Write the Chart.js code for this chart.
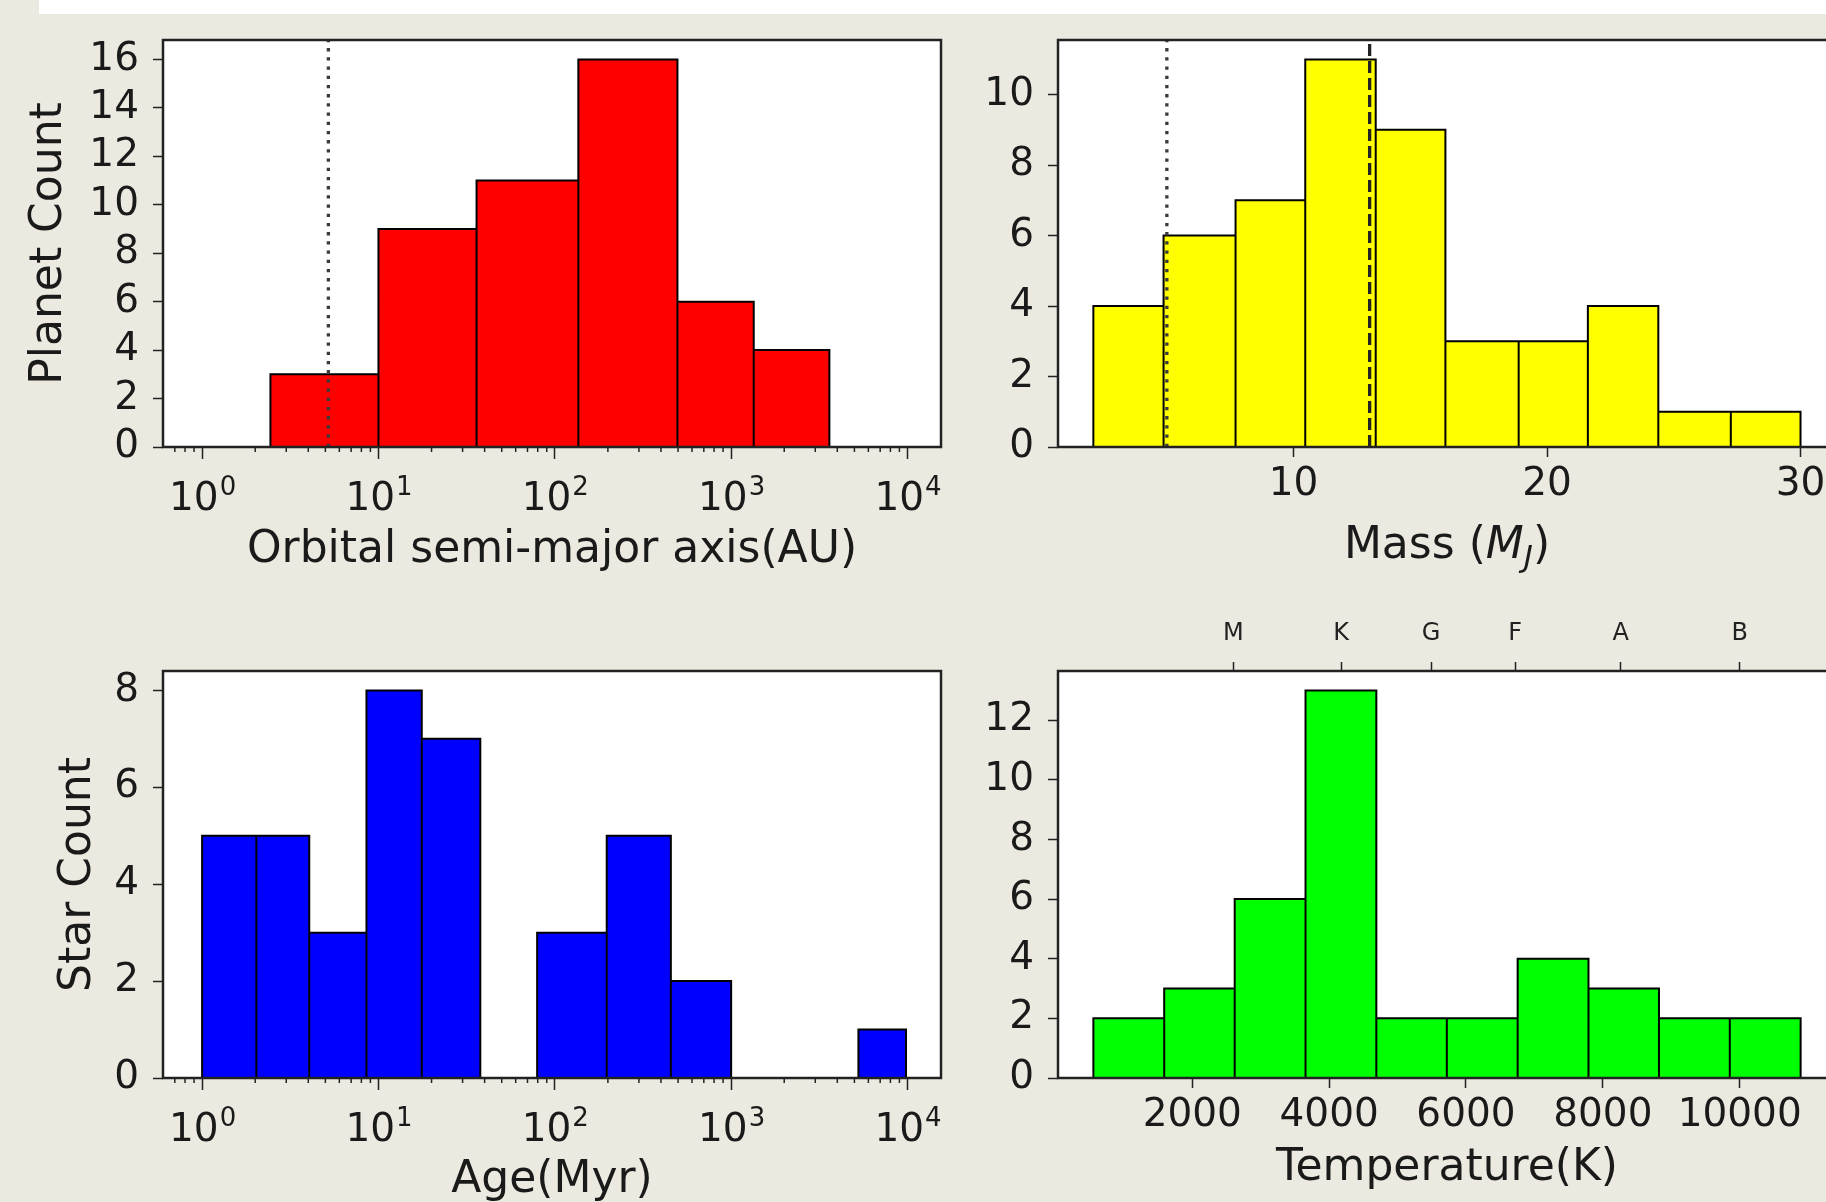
<!DOCTYPE html>
<html>
<head>
<meta charset="utf-8">
<script src="https://cdn.jsdelivr.net/npm/chart.js@4.4.1/dist/chart.umd.min.js"></script>
<style>
  html, body { margin: 0; padding: 0; }
  body { width: 1826px; height: 1202px; overflow: hidden; background: #eceae0; position: relative; }
  #band { position: absolute; left: 39px; top: 0; width: 1787px; height: 14px; background: #fff; }
  canvas { position: absolute; }
</style>
</head>
<body>
<div id="band"></div>
<canvas id="axisChart" width="1000" height="600" style="left:0px;top:0px"></canvas>
<canvas id="massChart" width="1000" height="600" style="left:950px;top:0px"></canvas>
<canvas id="ageChart" width="1000" height="660" style="left:0px;top:600px"></canvas>
<canvas id="tempChart" width="1000" height="660" style="left:950px;top:600px"></canvas>
<script>
// --- data ---
// orbital semi-major axis (AU), log bins
const axisEdges = [2.44, 10, 36, 136, 496, 1343, 3606];
const axisCounts = [3, 9, 11, 16, 6, 4];
const axisDotted = 5.2;

// mass (M_J)
const massEdges = [2.1, 4.87, 7.71, 10.46, 13.24, 15.99, 18.88, 21.61, 24.39, 27.25, 30.0];
const massCounts = [4, 6, 7, 11, 9, 3, 3, 4, 1, 1];
const massDotted = 5;
const massDashed = 13;

// age (Myr), log bins
const ageEdges = [1, 2.03, 4.05, 8.55, 17.6, 37.8, 79.4, 197, 455, 1000, 5270, 9810];
const ageCounts = [5, 5, 3, 8, 7, 0, 3, 5, 2, 0, 1];

// temperature (K)
const tempEdges = [555, 1590, 2620, 3655, 4690, 5720, 6755, 7790, 8820, 9855, 10890];
const tempCounts = [2, 3, 6, 13, 2, 2, 4, 3, 2, 2];
const spectralTypes = ['M', 'K', 'G', 'F', 'A', 'B'];
const spectralTemps = [2600, 4175, 5490, 6720, 8260, 10000];

// axis limits and ticks
const axisRange = [0.631, 15490];
const ageRange = [0.631, 15490];
const massRange = [0.705, 31.4];
const tempRange = [38, 11407];
const planetMax = 16.8, massCountMax = 11.55, starMax = 8.4, tempCountMax = 13.65;
const planetTicks = [0, 2, 4, 6, 8, 10, 12, 14, 16];
const massCountTicks = [0, 2, 4, 6, 8, 10];
const starTicks = [0, 2, 4, 6, 8];
const tempCountTicks = [0, 2, 4, 6, 8, 10, 12];
const massTicks = [10, 20, 30];
const tempTicks = [2000, 4000, 6000, 8000, 10000];

const FONT = '"DejaVu Sans", sans-serif';
const INK = '#1a1a1a';
const SPINE = '#222';
const TICK_SIZE = 39;

Chart.defaults.font.family = FONT;

// rectangle outlines for each bin, broken by nulls
function histPoints(edges, counts) {
    const pts = [];
    counts.forEach(function (c, i) {
        if (!c) return;
        const l = edges[i], r = edges[i + 1];
        pts.push({x: l, y: 0}, {x: l, y: c}, {x: r, y: c}, {x: r, y: 0}, {x: r, y: null});
    });
    return pts;
}

function histDataset(edges, counts, color) {
    return {
        data: histPoints(edges, counts),
        backgroundColor: color,
        borderColor: '#000',
        borderWidth: 2,
        fill: 'origin',
        pointRadius: 0,
        tension: 0,
        spanGaps: false,
        order: 2
    };
}

function vline(x, yMax, dash, color) {
    return {
        data: [{x: x, y: 0}, {x: x, y: yMax}],
        borderColor: color,
        borderWidth: 3.3,
        borderDash: dash,
        borderCapStyle: 'butt',
        fill: false,
        pointRadius: 0,
        order: 1
    };
}

function logTickList(min, max) {
    const out = [];
    for (let e = -1; e <= 4; e++) {
        for (let k = 1; k <= 9; k++) {
            const v = k * Math.pow(10, e);
            if (v >= min && v <= max) out.push({value: v, major: k === 1});
        }
    }
    return out;
}

function countAxis(ticksArr, max, width, title, titlePad) {
    return {
        min: 0, max: max,
        afterBuildTicks: function (s) { s.ticks = ticksArr.map(v => ({value: v})); },
        afterFit: function (s) { s.width = width; },
        border: {display: false},
        grid: {drawOnChartArea: false, tickLength: 10, tickWidth: 1.5, tickColor: SPINE},
        ticks: {font: {size: TICK_SIZE}, color: INK, padding: 14},
        title: {display: !!title, text: title || '', color: INK,
                font: {size: 44, lineHeight: 1.2}, padding: {top: titlePad || 0}}
    };
}

// log axis: labels 10^n are drawn by the frame plugin (bigger exponent)
function logAxis(range, height, title, titlePad) {
    return {
        type: 'logarithmic', min: range[0], max: range[1],
        afterBuildTicks: function (s) { s.ticks = logTickList(range[0], range[1]); },
        afterFit: function (s) { s.height = height; },
        border: {display: false},
        grid: {drawOnChartArea: false, tickLength: 12, tickWidth: 1.5,
               tickColor: c => (c.tick && c.tick.major) ? SPINE : 'rgba(0,0,0,0)'},
        ticks: {display: false, autoSkip: false},
        title: {display: true, text: title, color: INK, font: {size: 44, lineHeight: 1.2}, padding: {bottom: titlePad}}
    };
}

function linAxis(range, ticksArr, height, title, titlePad) {
    return {
        type: 'linear', min: range[0], max: range[1],
        afterBuildTicks: function (s) { s.ticks = ticksArr.map(v => ({value: v})); },
        afterFit: function (s) { s.height = height; },
        border: {display: false},
        grid: {drawOnChartArea: false, tickLength: 10, tickWidth: 1.5, tickColor: SPINE},
        ticks: {autoSkip: false, maxRotation: 0, font: {size: TICK_SIZE}, color: INK, padding: 4,
                callback: v => String(v)},
        title: {display: !!title, text: title || '', color: INK, font: {size: 44, lineHeight: 1.2}, padding: {bottom: titlePad || 0}}
    };
}

// white axes background, minor log ticks, 10^n labels and the full frame
const framePlugin = {
    id: 'frame',
    beforeDraw(chart) {
        const {ctx, chartArea: a} = chart;
        ctx.save();
        ctx.fillStyle = '#fff';
        ctx.fillRect(a.left, a.top, a.right - a.left, a.bottom - a.top);
        ctx.restore();
    },
    afterDraw(chart) {
        const {ctx, chartArea: a} = chart;
        const xs = chart.scales.x;
        ctx.save();
        if (xs.type === 'logarithmic') {
            ctx.strokeStyle = SPINE;
            ctx.lineWidth = 1.5;
            ctx.fillStyle = INK;
            ctx.textBaseline = 'alphabetic';
            ctx.textAlign = 'left';
            xs.ticks.forEach(function (t) {
                const px = xs.getPixelForValue(t.value);
                if (!t.major) {
                    ctx.beginPath();
                    ctx.moveTo(px, a.bottom);
                    ctx.lineTo(px, a.bottom + 5);
                    ctx.stroke();
                    return;
                }
                const exp = String(Math.round(Math.log10(t.value)));
                ctx.font = TICK_SIZE + 'px ' + FONT;
                const wb = ctx.measureText('10').width;
                ctx.font = '26px ' + FONT;
                const we = ctx.measureText(exp).width;
                const x0 = px - (wb + we) / 2;
                const base = a.bottom + 62.5;
                ctx.font = TICK_SIZE + 'px ' + FONT;
                ctx.fillText('10', x0, base);
                ctx.font = '26px ' + FONT;
                ctx.fillText(exp, x0 + wb + 1, base - 15);
            });
        }
        ctx.strokeStyle = SPINE;
        ctx.lineWidth = 2.5;
        ctx.strokeRect(a.left, a.top, a.right - a.left, a.bottom - a.top);
        ctx.restore();
    }
};

// "Mass (M_J)" with italic M and subscript J
const massTitle = {
    id: 'massTitle',
    afterDraw(chart) {
        const {ctx, chartArea: a} = chart;
        const parts = [
            ['Mass (', '44px ' + FONT, 0],
            ['M', 'italic 44px ' + FONT, 0],
            ['J', 'italic 31px ' + FONT, 9],
            [')', '44px ' + FONT, 0]
        ];
        ctx.save();
        let w = 0;
        parts.forEach(function (p) { ctx.font = p[1]; p.push(ctx.measureText(p[0]).width); w += p[3]; });
        let x = (a.left + a.right) / 2 - w / 2;
        const y = chart.scales.x.bottom - 42;
        ctx.fillStyle = INK;
        ctx.textBaseline = 'alphabetic';
        parts.forEach(function (p) { ctx.font = p[1]; ctx.fillText(p[0], x, y + p[2]); x += p[3]; });
        ctx.restore();
    }
};

const common = {
    responsive: false,
    animation: false,
    devicePixelRatio: 1,
    events: [],
    plugins: {legend: {display: false}, tooltip: {enabled: false}}
};

new Chart(document.getElementById('axisChart'), {
    type: 'line',
    data: {datasets: [
        histDataset(axisEdges, axisCounts, '#ff0000'),
        vline(axisDotted, planetMax, [3.3, 5.9], '#3a3a3a')
    ]},
    options: Object.assign({}, common, {
        layout: {padding: {left: 0, top: 40, right: 59, bottom: 0}},
        scales: {
            x: logAxis(axisRange, 153, 'Orbital semi-major axis(AU)', 22.6),
            y: countAxis(planetTicks, planetMax, 163, 'Planet Count', 23)
        }
    }),
    plugins: [framePlugin]
});

new Chart(document.getElementById('massChart'), {
    type: 'line',
    data: {datasets: [
        histDataset(massEdges, massCounts, '#ffff00'),
        vline(massDotted, massCountMax, [3.3, 5.9], '#3a3a3a'),
        vline(massDashed, massCountMax, [12, 5], '#222')
    ]},
    options: Object.assign({}, common, {
        layout: {padding: {left: 0, top: 40, right: 114, bottom: 0}},
        scales: {
            x: linAxis(massRange, massTicks, 153),
            y: countAxis(massCountTicks, massCountMax, 108)
        }
    }),
    plugins: [framePlugin, massTitle]
});

new Chart(document.getElementById('ageChart'), {
    type: 'line',
    data: {datasets: [histDataset(ageEdges, ageCounts, '#0000ff')]},
    options: Object.assign({}, common, {
        layout: {padding: {left: 0, top: 71, right: 59, bottom: 0}},
        scales: {
            x: logAxis(ageRange, 182, 'Age(Myr)', 52.6),
            y: countAxis(starTicks, starMax, 163, 'Star Count', 52)
        }
    }),
    plugins: [framePlugin]
});

new Chart(document.getElementById('tempChart'), {
    type: 'line',
    data: {datasets: [histDataset(tempEdges, tempCounts, '#00ff00')]},
    options: Object.assign({}, common, {
        layout: {padding: {left: 0, top: 0, right: 114, bottom: 0}},
        scales: {
            x: linAxis(tempRange, tempTicks, 182, 'Temperature(K)', 64.6),
            x2: {
                type: 'linear', position: 'top', min: tempRange[0], max: tempRange[1],
                afterBuildTicks: function (s) { s.ticks = spectralTemps.map(v => ({value: v})); },
                afterFit: function (s) { s.height = 71; },
                border: {display: false},
                grid: {drawOnChartArea: false, tickLength: 9, tickWidth: 1.5, tickColor: SPINE},
                ticks: {autoSkip: false, maxRotation: 0, font: {size: 24}, color: '#222', padding: 13.6,
                        callback: (v, i) => spectralTypes[i]}
            },
            y: countAxis(tempCountTicks, tempCountMax, 108)
        }
    }),
    plugins: [framePlugin]
});
</script>
</body>
</html>
